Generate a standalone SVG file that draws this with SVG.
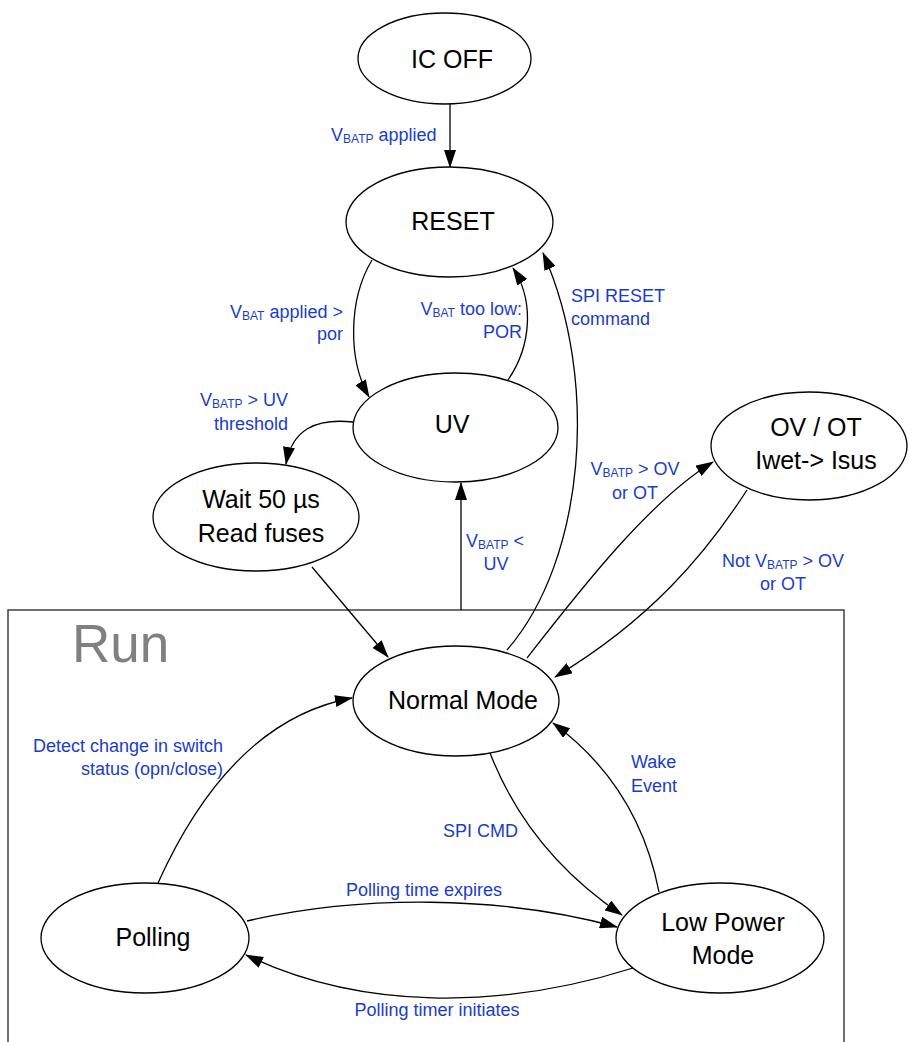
<svg xmlns="http://www.w3.org/2000/svg" width="909" height="1042" viewBox="0 0 909 1042">
<style>
.node ellipse{fill:#fff;stroke:#000;stroke-width:1.3}
.nt{font-family:"Liberation Sans",Arial,sans-serif;font-size:25px;fill:#000;text-anchor:middle}
.lb{font-family:"Liberation Sans",Arial,sans-serif;font-size:18px;fill:#1a3ccc}
.sub{font-size:12px}
.conn path{fill:none;stroke:#000;stroke-width:1.3;marker-end:url(#ah)}
</style>
<defs>
<marker id="ah" markerUnits="userSpaceOnUse" markerWidth="18" markerHeight="12" refX="17" refY="6" orient="auto">
<path d="M0,0 L18,6 L0,12 z" fill="#000"/>
</marker>
</defs>
<rect width="909" height="1042" fill="#fff"/>
<g id="run">
<rect x="8" y="610" width="836" height="470" fill="none" stroke="#404040" stroke-width="1.5"/>
<text x="72" y="662" font-family="'Liberation Sans',Arial,sans-serif" font-size="53" fill="#808080">Run</text>
</g>
<g class="conn" id="connectors">
<path d="M450,104 L450,167"/>
<path d="M372,260 C348,300 348,360 369,397"/>
<path d="M508,380 C532,345 534,300 513,268"/>
<path d="M507,650 C585,560 600,380 543,253"/>
<path d="M353,422 C315,418 292,430 286,464"/>
<path d="M312,567 L388,657"/>
<path d="M461,610 L461,483"/>
<path d="M527,658 C580,590 650,500 713,462"/>
<path d="M747,490 C705,555 650,620 555,677"/>
<path d="M158,883 C200,790 260,715 352,698"/>
<path d="M490,753 C520,830 570,880 622,915"/>
<path d="M659,892 C645,820 610,765 553,723"/>
<path d="M247,921 C360,895 500,895 617,927"/>
<path d="M633,968 C500,1010 360,1010 246,955"/>
</g>
<g id="labels">
<text class="lb" x="331" y="141">V<tspan class="sub" dy="2">BATP</tspan><tspan dy="-2"> applied</tspan></text>
<text class="lb" text-anchor="end" x="343" y="318">V<tspan class="sub" dy="2">BAT</tspan><tspan dy="-2"> applied &gt;</tspan></text>
<text class="lb" text-anchor="end" x="343" y="340">por</text>
<text class="lb" text-anchor="end" x="522" y="315">V<tspan class="sub" dy="2">BAT</tspan><tspan dy="-2"> too low:</tspan></text>
<text class="lb" text-anchor="end" x="522" y="338">POR</text>
<text class="lb" x="571" y="302">SPI RESET</text>
<text class="lb" x="571" y="325">command</text>
<text class="lb" text-anchor="end" x="288" y="406">V<tspan class="sub" dy="2">BATP</tspan><tspan dy="-2"> &gt; UV</tspan></text>
<text class="lb" text-anchor="end" x="288" y="430">threshold</text>
<text class="lb" text-anchor="middle" x="635" y="475">V<tspan class="sub" dy="2">BATP</tspan><tspan dy="-2"> &gt; OV</tspan></text>
<text class="lb" text-anchor="middle" x="635" y="499">or OT</text>
<text class="lb" text-anchor="middle" x="495" y="547">V<tspan class="sub" dy="2">BATP</tspan><tspan dy="-2"> &lt;</tspan></text>
<text class="lb" text-anchor="middle" x="496" y="570">UV</text>
<text class="lb" text-anchor="middle" x="783" y="567">Not V<tspan class="sub" dy="2">BATP</tspan><tspan dy="-2"> &gt; OV</tspan></text>
<text class="lb" text-anchor="middle" x="783" y="590">or OT</text>
<text class="lb" text-anchor="end" x="223" y="752">Detect change in switch</text>
<text class="lb" text-anchor="end" x="223" y="775">status (opn/close)</text>
<text class="lb" x="631" y="768">Wake</text>
<text class="lb" x="631" y="792">Event</text>
<text class="lb" x="443" y="837">SPI CMD</text>
<text class="lb" text-anchor="middle" x="424" y="896">Polling time expires</text>
<text class="lb" text-anchor="middle" x="437" y="1016">Polling timer initiates</text>
</g>
<g class="node" id="icoff"><ellipse cx="444.5" cy="58.5" rx="86.5" ry="45.5"/><text class="nt" x="452" y="68">IC OFF</text></g>
<g class="node" id="reset"><ellipse cx="449.5" cy="222" rx="103.5" ry="55"/><text class="nt" x="453" y="230">RESET</text></g>
<g class="node" id="uv"><ellipse cx="455.5" cy="427.5" rx="102.5" ry="54.5"/><text class="nt" x="452" y="433">UV</text></g>
<g class="node" id="wait"><ellipse cx="256" cy="517" rx="103" ry="54"/><text class="nt" x="261" y="508">Wait 50 µs</text><text class="nt" x="261" y="542">Read fuses</text></g>
<g class="node" id="ovot"><ellipse cx="809" cy="446" rx="98" ry="54"/><text class="nt" x="816" y="436">OV / OT</text><text class="nt" x="816" y="469">Iwet-&gt; Isus</text></g>
<g class="node" id="normal"><ellipse cx="456" cy="701" rx="103" ry="55"/><text class="nt" x="463" y="709">Normal Mode</text></g>
<g class="node" id="polling"><ellipse cx="145" cy="938" rx="104" ry="55"/><text class="nt" x="153" y="946">Polling</text></g>
<g class="node" id="lowpower"><ellipse cx="720" cy="938" rx="104" ry="55"/><text class="nt" x="723" y="931">Low Power</text><text class="nt" x="723" y="964">Mode</text></g>
</svg>
